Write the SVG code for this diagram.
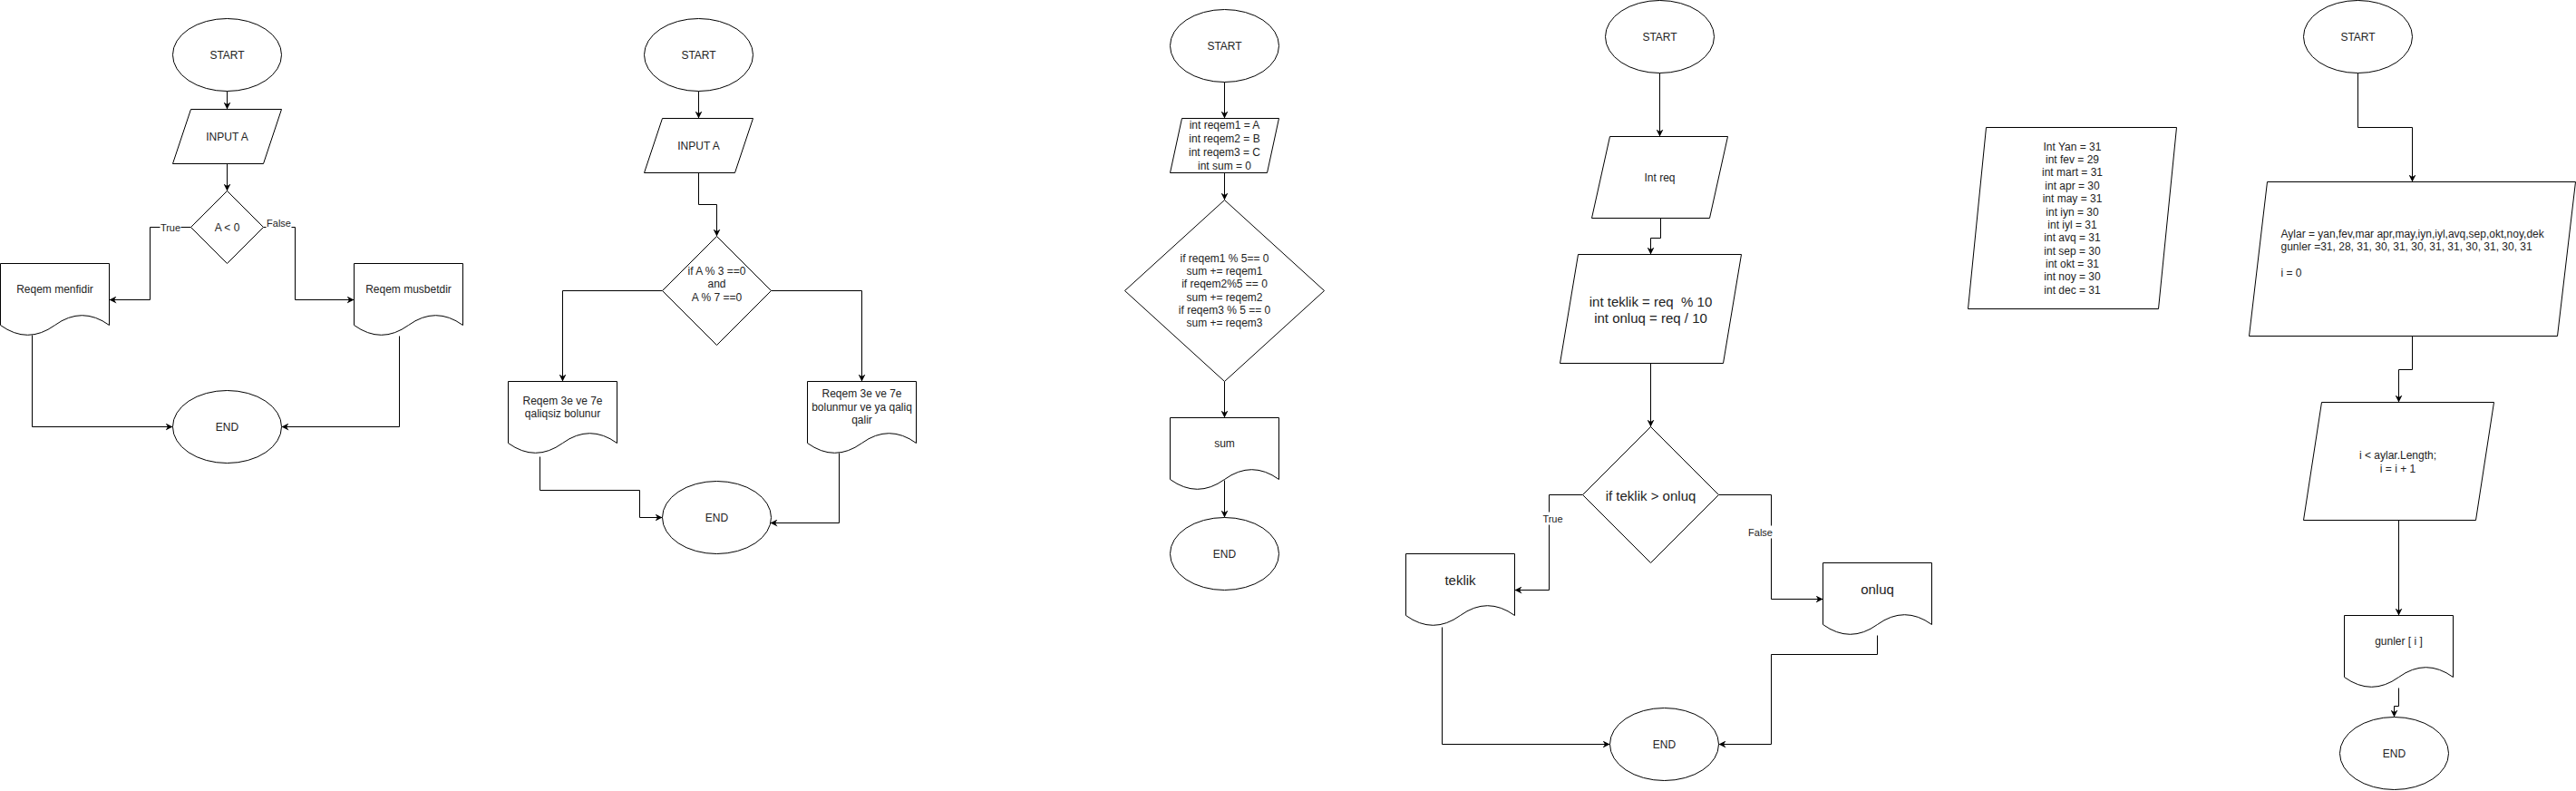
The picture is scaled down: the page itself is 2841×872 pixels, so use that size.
<svg xmlns="http://www.w3.org/2000/svg" width="2841" height="872" viewBox="0 0 2841 872">
<style>
.s{fill:#fff;stroke:#000;stroke-width:1}
.e{fill:none;stroke:#000;stroke-width:1}
.t{font-family:"Liberation Sans",Arial,sans-serif;font-size:12px;fill:#222;text-anchor:middle;white-space:pre}
.l{text-anchor:start}
.b{font-size:15px}
.lb{font-family:"Liberation Sans",Arial,sans-serif;font-size:11px;fill:#222;text-anchor:middle}
.bg{fill:#fff;stroke:none}
</style>
<defs>
<marker id="a" markerUnits="userSpaceOnUse" markerWidth="8" markerHeight="8" viewBox="0 0 8 8" refX="8" refY="4" orient="auto">
<path d="M0,0 L8,4 L0,8 L2.5,4 Z" fill="#000"/>
</marker>
</defs>
<rect x="0" y="0" width="2841" height="872" fill="#fff"/>
<g transform="translate(0.5,0.5)">
<g id="connectors">
<!-- FC1 -->
<path class="e" d="M250,100 V120" marker-end="url(#a)"/>
<path class="e" d="M250,180 V210" marker-end="url(#a)"/>
<path class="e" d="M210,250 H165 V330 H120" marker-end="url(#a)"/>
<path class="e" d="M290,250 H325 V330 H390" marker-end="url(#a)"/>
<path class="e" d="M35,369 V470 H190" marker-end="url(#a)"/>
<path class="e" d="M440,370 V470 H310" marker-end="url(#a)"/>
<!-- FC2 -->
<path class="e" d="M770,100 V130" marker-end="url(#a)"/>
<path class="e" d="M770,190 V225 H790 V260" marker-end="url(#a)"/>
<path class="e" d="M730,320 H620 V420" marker-end="url(#a)"/>
<path class="e" d="M850,320 H950 V420" marker-end="url(#a)"/>
<path class="e" d="M595,503 V540 H705 V570 H730" marker-end="url(#a)"/>
<path class="e" d="M925,499 V576 H849" marker-end="url(#a)"/>
<!-- FC3 -->
<path class="e" d="M1350,90 V130" marker-end="url(#a)"/>
<path class="e" d="M1350,190 V220" marker-end="url(#a)"/>
<path class="e" d="M1350,420 V460" marker-end="url(#a)"/>
<path class="e" d="M1350,529 V570" marker-end="url(#a)"/>
<!-- FC4 -->
<path class="e" d="M1830,80 V150" marker-end="url(#a)"/>
<path class="e" d="M1831,240 V262 H1820 V280" marker-end="url(#a)"/>
<path class="e" d="M1820,400 V470" marker-end="url(#a)"/>
<path class="e" d="M1745,545 H1708 V650 H1670" marker-end="url(#a)"/>
<path class="e" d="M1895,545 H1953 V660 H2010" marker-end="url(#a)"/>
<path class="e" d="M1590,691 V820 H1775" marker-end="url(#a)"/>
<path class="e" d="M2070,700 V721 H1953 V820 H1895" marker-end="url(#a)"/>
<!-- FC6 -->
<path class="e" d="M2600,80 V140 H2660 V200" marker-end="url(#a)"/>
<path class="e" d="M2660,370 V407 H2645 V443" marker-end="url(#a)"/>
<path class="e" d="M2645,573 V678" marker-end="url(#a)"/>
<path class="e" d="M2645,758 V778 H2640 V790" marker-end="url(#a)"/>
<!-- labels -->
<g id="edge-labels">
<rect class="bg" x="176" y="243" width="23" height="14"/>
<text class="lb" x="187.5" y="254">True</text>
<rect class="bg" x="293" y="238" width="28" height="14"/>
<text class="lb" x="307" y="249">False</text>
<rect class="bg" x="1700" y="564" width="24" height="14"/>
<text class="lb" x="1712" y="575">True</text>
<rect class="bg" x="1926" y="579" width="30" height="14"/>
<text class="lb" x="1941" y="590">False</text>
</g>
</g>

<!-- FC1 -->
<g id="start1"><ellipse class="s" cx="250" cy="60" rx="60" ry="40"/><text class="t" x="250" y="64">START</text></g>
<g id="input1"><polygon class="s" points="210,120 310,120 290,180 190,180"/><text class="t" x="250" y="154">INPUT A</text></g>
<g id="dec1"><polygon class="s" points="250,210 290,250 250,290 210,250"/><text class="t" x="250" y="254">A &lt; 0</text></g>
<g id="doc1a"><path class="s" d="M0,290 H120 V358 Q90,336.4 60,358 Q30,379.6 0,358 Z"/><text class="t" x="60" y="322">Reqem menfidir</text></g>
<g id="doc1b"><path class="s" d="M390,290 H510 V358 Q480,336.4 450,358 Q420,379.6 390,358 Z"/><text class="t" x="450" y="322">Reqem musbetdir</text></g>
<g id="end1"><ellipse class="s" cx="250" cy="470" rx="60" ry="40"/><text class="t" x="250" y="474">END</text></g>

<!-- FC2 -->
<g id="start2"><ellipse class="s" cx="770" cy="60" rx="60" ry="40"/><text class="t" x="770" y="64">START</text></g>
<g id="input2"><polygon class="s" points="730,130 830,130 810,190 710,190"/><text class="t" x="770" y="164">INPUT A</text></g>
<g id="dec2"><polygon class="s" points="790,260 850,320 790,380 730,320"/>
<text class="t" x="790" y="302">if A % 3 ==0</text><text class="t" x="790" y="316.5">and</text><text class="t" x="790" y="331">A % 7 ==0</text></g>
<g id="doc2a"><path class="s" d="M560,420 H680 V488 Q650,466.4 620,488 Q590,509.6 560,488 Z"/>
<text class="t" x="620" y="445">Reqem 3e ve 7e</text><text class="t" x="620" y="459.5">qaliqsiz bolunur</text></g>
<g id="doc2b"><path class="s" d="M890,420 H1010 V488 Q980,466.4 950,488 Q920,509.6 890,488 Z"/>
<text class="t" x="950" y="437.5">Reqem 3e ve 7e</text><text class="t" x="950" y="452">bolunmur ve ya qaliq</text><text class="t" x="950" y="466.5">qalir</text></g>
<g id="end2"><ellipse class="s" cx="790" cy="570" rx="60" ry="40"/><text class="t" x="790" y="574">END</text></g>

<!-- FC3 -->
<g id="start3"><ellipse class="s" cx="1350" cy="50" rx="60" ry="40"/><text class="t" x="1350" y="54">START</text></g>
<g id="input3"><polygon class="s" points="1303,130 1410,130 1397,190 1290,190"/>
<text class="t" x="1350" y="141.5">int reqem1 = A</text><text class="t" x="1350" y="156.5">int reqem2 = B</text><text class="t" x="1350" y="171.5">int reqem3 = C</text><text class="t" x="1350" y="186.5">int sum = 0</text></g>
<g id="dec3"><polygon class="s" points="1350,220 1460,320 1350,420 1240,320"/>
<text class="t" x="1350" y="288.5">if reqem1 % 5== 0</text><text class="t" x="1350" y="302.7">sum += reqem1</text><text class="t" x="1350" y="316.9">if reqem2%5 == 0</text><text class="t" x="1350" y="331.1">sum += reqem2</text><text class="t" x="1350" y="345.3">if reqem3 % 5 == 0</text><text class="t" x="1350" y="359.5">sum += reqem3</text></g>
<g id="doc3"><path class="s" d="M1290,460 H1410 V528 Q1380,506.4 1350,528 Q1320,549.6 1290,528 Z"/><text class="t" x="1350" y="492">sum</text></g>
<g id="end3"><ellipse class="s" cx="1350" cy="610" rx="60" ry="40"/><text class="t" x="1350" y="614">END</text></g>

<!-- FC4 -->
<g id="start4"><ellipse class="s" cx="1830" cy="40" rx="60" ry="40"/><text class="t" x="1830" y="44">START</text></g>
<g id="input4"><polygon class="s" points="1775,150 1905,150 1885,240 1755,240"/><text class="t" x="1830" y="199">Int req</text></g>
<g id="proc4"><polygon class="s" points="1740,280 1920,280 1900,400 1720,400"/>
<text class="t b" x="1820" y="337" xml:space="preserve">int teklik = req  % 10</text><text class="t b" x="1820" y="355">int onluq = req / 10</text></g>
<g id="dec4"><polygon class="s" points="1820,470 1895,545 1820,620 1745,545"/><text class="t b" x="1820" y="551">if teklik &gt; onluq</text></g>
<g id="doc4a"><path class="s" d="M1550,610 H1670 V678 Q1640,656.4 1610,678 Q1580,699.6 1550,678 Z"/><text class="t b" x="1610" y="644">teklik</text></g>
<g id="doc4b"><path class="s" d="M2010,620 H2130 V688 Q2100,666.4 2070,688 Q2040,709.6 2010,688 Z"/><text class="t b" x="2070" y="654">onluq</text></g>
<g id="end4"><ellipse class="s" cx="1835" cy="820" rx="60" ry="40"/><text class="t" x="1835" y="824">END</text></g>

<!-- FC5 -->
<g id="months5"><polygon class="s" points="2190,140 2400,140 2380,340 2170,340"/>
<text class="t" x="2285" y="165.2">Int Yan = 31</text>
<text class="t" x="2285" y="179.6">int fev = 29</text>
<text class="t" x="2285" y="193.9">int mart = 31</text>
<text class="t" x="2285" y="208.3">int apr = 30</text>
<text class="t" x="2285" y="222.6">int may = 31</text>
<text class="t" x="2285" y="237">int iyn = 30</text>
<text class="t" x="2285" y="251.4">int iyl = 31</text>
<text class="t" x="2285" y="265.7">int avq = 31</text>
<text class="t" x="2285" y="280.1">int sep = 30</text>
<text class="t" x="2285" y="294.4">int okt = 31</text>
<text class="t" x="2285" y="308.8">int noy = 30</text>
<text class="t" x="2285" y="323.2">int dec = 31</text>
</g>

<!-- FC6 -->
<g id="start6"><ellipse class="s" cx="2600" cy="40" rx="60" ry="40"/><text class="t" x="2600" y="44">START</text></g>
<g id="data6"><polygon class="s" points="2500,200 2840,200 2820,370 2480,370"/>
<text class="t l" x="2515" y="261.5">Aylar = yan,fev,mar apr,may,iyn,iyl,avq,sep,okt,noy,dek</text>
<text class="t l" x="2515" y="275.5">gunler =31, 28, 31, 30, 31, 30, 31, 31, 30, 31, 30, 31</text>
<text class="t l" x="2515" y="304">i = 0</text></g>
<g id="loop6"><polygon class="s" points="2560,443 2750,443 2730,573 2540,573"/>
<text class="t" x="2644" y="505">i &lt; aylar.Length;</text><text class="t" x="2644" y="520">i = i + 1</text></g>
<g id="doc6"><path class="s" d="M2585,678 H2705 V746 Q2675,724.4 2645,746 Q2615,767.6 2585,746 Z"/><text class="t" x="2645" y="710">gunler [ i ]</text></g>
<g id="end6"><ellipse class="s" cx="2640" cy="830" rx="60" ry="40"/><text class="t" x="2640" y="834">END</text></g>
</g>
</svg>
